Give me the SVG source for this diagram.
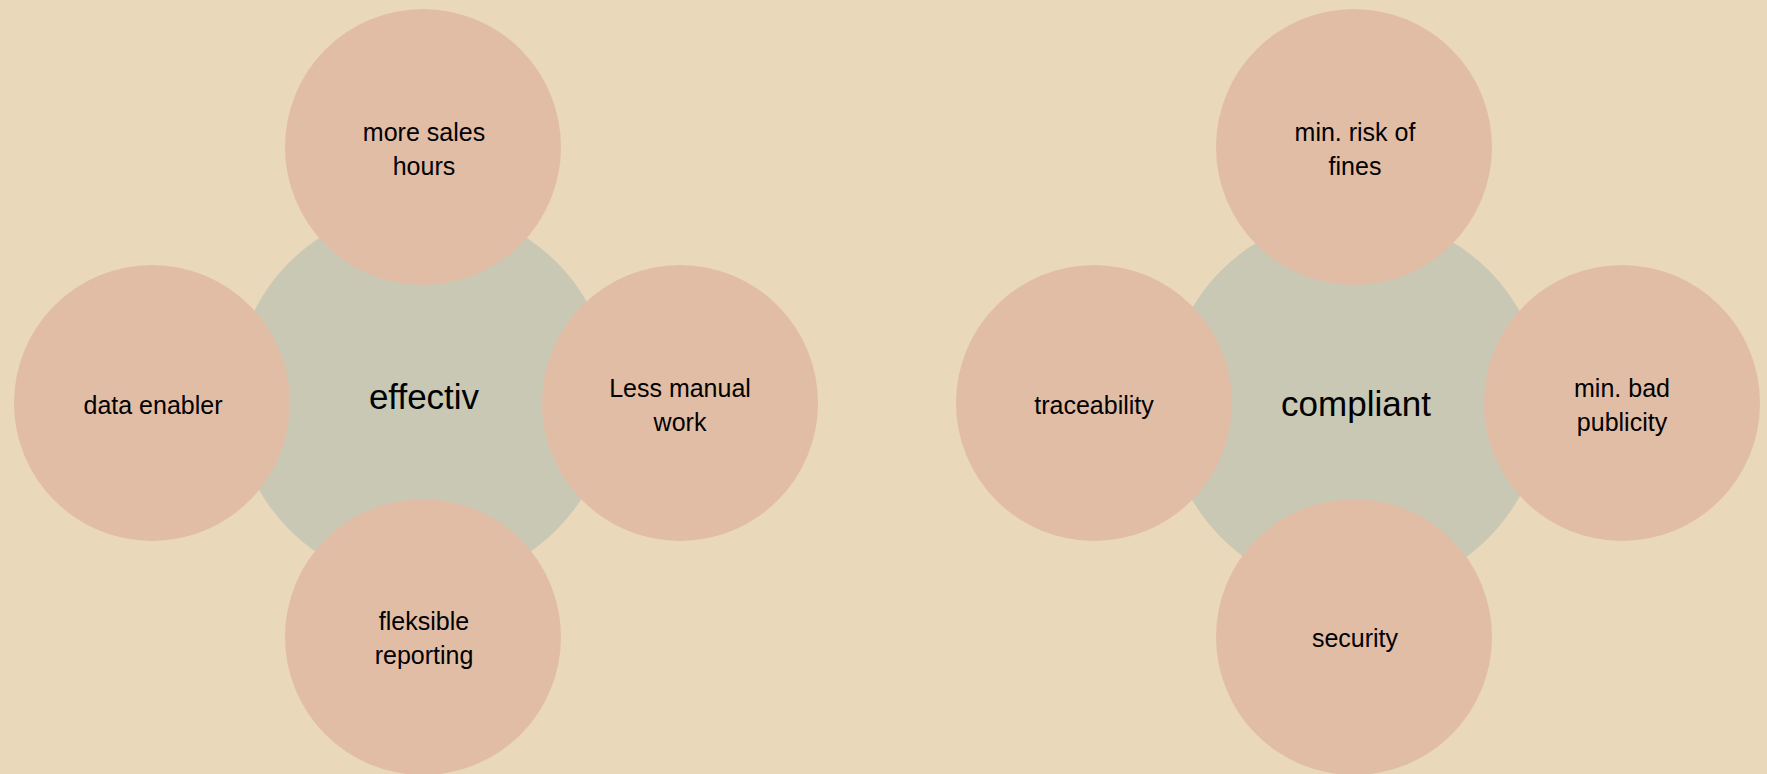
<svg xmlns="http://www.w3.org/2000/svg" width="1767" height="774" viewBox="0 0 1767 774">
<style>
.bg{fill:#EAD8BA}
.hub{fill:#C8C8B4}
.sat{fill:#E2BDA6}
.t{font-family:"Liberation Sans",Arial,sans-serif;font-size:25px;fill:#000;text-anchor:middle}
.ht{font-family:"Liberation Sans",Arial,sans-serif;font-size:35px;fill:#000;text-anchor:middle}
</style>
<rect class="bg" x="0" y="0" width="1767" height="774"/>
<g id="connectors"></g>
<g id="effectiv">
<circle class="hub" cx="423" cy="396" r="189"/>
<text class="ht" x="424" y="409">effectiv</text>
</g>
<g id="more-sales-hours">
<circle class="sat" cx="423" cy="147" r="138"/>
<text class="t" x="424" y="141">more sales</text>
<text class="t" x="424" y="175">hours</text>
</g>
<g id="data-enabler">
<circle class="sat" cx="152" cy="403" r="138"/>
<text class="t" x="153" y="414">data enabler</text>
</g>
<g id="less-manual-work">
<circle class="sat" cx="680" cy="403" r="138"/>
<text class="t" x="680" y="397">Less manual</text>
<text class="t" x="680" y="431">work</text>
</g>
<g id="fleksible-reporting">
<circle class="sat" cx="423" cy="637" r="138"/>
<text class="t" x="424" y="630">fleksible</text>
<text class="t" x="424" y="664">reporting</text>
</g>
<g id="compliant">
<circle class="hub" cx="1355" cy="404" r="189"/>
<text class="ht" x="1356" y="416">compliant</text>
</g>
<g id="min-risk-of-fines">
<circle class="sat" cx="1354" cy="147" r="138"/>
<text class="t" x="1355" y="141">min. risk of</text>
<text class="t" x="1355" y="175">fines</text>
</g>
<g id="traceability">
<circle class="sat" cx="1094" cy="403" r="138"/>
<text class="t" x="1094" y="414">traceability</text>
</g>
<g id="min-bad-publicity">
<circle class="sat" cx="1622" cy="403" r="138"/>
<text class="t" x="1622" y="397">min. bad</text>
<text class="t" x="1622" y="431">publicity</text>
</g>
<g id="security">
<circle class="sat" cx="1354" cy="637" r="138"/>
<text class="t" x="1355" y="647">security</text>
</g>
</svg>
